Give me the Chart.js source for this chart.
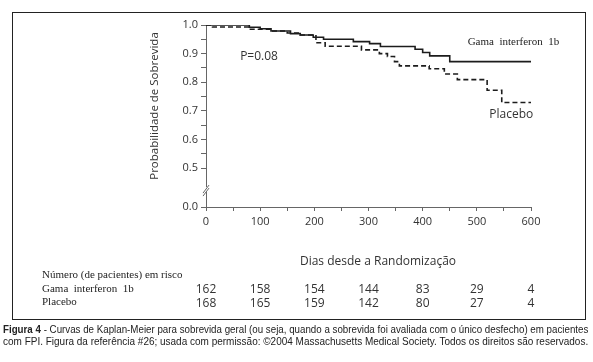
<!DOCTYPE html>
<html>
<head>
<meta charset="utf-8">
<script src="https://cdn.jsdelivr.net/npm/chart.js@4.4.0/dist/chart.umd.min.js"></script>
<style>
  html, body { margin: 0; padding: 0; background: #fff; }
  #wrap { position: relative; width: 593px; height: 362px; overflow: hidden; }
  #km { position: absolute; left: 0; top: 0; }
  .cap { position: absolute; left: 3px; display: inline-block; white-space: nowrap; font: 10px "Liberation Sans", sans-serif; color: #222; transform-origin: 0 0; }
</style>
</head>
<body>
<div id="wrap">
  <canvas id="km" width="593" height="362"></canvas>
  <div class="cap" id="cap1" style="top:324px"><b>Figura 4</b> - Curvas de Kaplan-Meier para sobrevida geral (ou seja, quando a sobrevida foi avaliada com o único desfecho) em pacientes</div>
  <div class="cap" id="cap2" style="top:336px">com FPI. Figura da referência #26; usada com permissão: ©2004 Massachusetts Medical Society. Todos os direitos são reservados.</div>
</div>
<script>
// survival curves (day of step, survival after step)
const gamaDays = [0, 80, 100, 120, 156, 174, 198, 217, 272, 302, 322, 386, 400, 413, 450, 600];
const gamaSurv = [1.0, 0.992, 0.987, 0.979, 0.970, 0.965, 0.957, 0.950, 0.942, 0.935, 0.925, 0.915, 0.904, 0.892, 0.872, 0.872];
const placeboDays = [0, 12, 82, 119, 150, 174, 203, 220, 287, 320, 335, 348, 357, 412, 440, 464, 519, 546, 600];
const placeboSurv = [1.0, 0.993, 0.985, 0.979, 0.972, 0.965, 0.938, 0.926, 0.913, 0.900, 0.890, 0.872, 0.857, 0.847, 0.829, 0.809, 0.772, 0.729, 0.729];

// numbers at risk
const riskDays = [0, 100, 200, 300, 400, 500, 600];
const riskGama = [162, 158, 154, 144, 83, 29, 4];
const riskPlacebo = [168, 165, 159, 142, 80, 27, 4];

// ticks
const xTickValues = [0, 50, 100, 150, 200, 250, 300, 350, 400, 450, 500, 550, 600];
const yTickValues = [0.5, 0.55, 0.6, 0.65, 0.7, 0.75, 0.8, 0.85, 0.9, 0.95, 1.0];
const yBreak = 0.364; // where "0.0" sits, below the axis break

const ink = "#222";
const axisGrey = "#666";

function toPoints(days, surv) {
  return days.map((d, i) => ({ x: d, y: surv[i] }));
}

const extras = {
  id: "extras",
  beforeDraw(chart) {
    const ctx = chart.ctx;
    ctx.save();
    ctx.strokeStyle = ink;
    ctx.lineWidth = 1;
    ctx.strokeRect(12.5, 12.5, 573, 307);
    ctx.restore();
  },
  afterDraw(chart) {
    const ctx = chart.ctx;
    const xs = chart.scales.x;
    const ys = chart.scales.y;
    ctx.save();

    // axis break on y
    const bx = xs.left;
    const by = ys.getPixelForValue(0.5) + 22;
    ctx.fillStyle = "#fff";
    ctx.fillRect(bx - 2, by - 3, 4, 5);
    ctx.strokeStyle = axisGrey;
    ctx.lineWidth = 1;
    ctx.beginPath();
    ctx.moveTo(bx - 3, by + 3); ctx.lineTo(bx + 3, by - 5);
    ctx.moveTo(bx - 3, by + 6); ctx.lineTo(bx + 3, by - 2);
    ctx.stroke();

    // axis titles
    ctx.fillStyle = "#333";
    ctx.font = '12px "Open Sans", sans-serif';
    ctx.textAlign = "center";
    ctx.textBaseline = "middle";
    ctx.fillText("Dias desde a Randomização", 378, 262);
    ctx.save();
    ctx.translate(155, 106);
    ctx.rotate(-Math.PI / 2);
    ctx.font = '11.5px "Open Sans", sans-serif';
    ctx.fillText("Probabilidade de Sobrevida", 0, 0);
    ctx.restore();

    // annotations
    ctx.textAlign = "left";
    ctx.font = '12px "Open Sans", sans-serif';
    ctx.fillText("P=0.08", xs.getPixelForValue(63), ys.getPixelForValue(0.888));
    ctx.fillText("Placebo", xs.getPixelForValue(523), ys.getPixelForValue(0.688));
    ctx.fillStyle = ink;
    ctx.font = '11px "Liberation Serif", serif';
    ctx.fillText("Gama  interferon  1b", xs.getPixelForValue(483), ys.getPixelForValue(0.94));

    // numbers at risk table
    ctx.fillText("Número (de pacientes) em risco", 42, 275);
    ctx.fillText("Gama  interferon  1b", 42, 289);
    ctx.fillText("Placebo", 42, 302);
    ctx.fillStyle = "#333";
    ctx.textAlign = "center";
    ctx.font = '12px "Open Sans", sans-serif';
    riskDays.forEach((d, i) => {
      const px = xs.getPixelForValue(d);
      ctx.fillText(String(riskGama[i]), px, 290);
      ctx.fillText(String(riskPlacebo[i]), px, 304);
    });
    ctx.restore();
  }
};

new Chart(document.getElementById("km"), {
  type: "line",
  data: {
    datasets: [
      {
        label: "Gama interferon 1b",
        data: toPoints(gamaDays, gamaSurv),
        borderColor: "#1c1c1c",
        borderWidth: 1.6,
        stepped: true,
        pointRadius: 0,
        fill: false
      },
      {
        label: "Placebo",
        data: toPoints(placeboDays, placeboSurv),
        borderColor: "#1c1c1c",
        borderWidth: 1.6,
        borderDash: [5, 3],
        stepped: true,
        pointRadius: 0,
        fill: false
      }
    ]
  },
  options: {
    responsive: false,
    animation: false,
    devicePixelRatio: 1,
    layout: { padding: { top: 25, right: 62, left: 0, bottom: 0 } },
    plugins: { legend: { display: false }, tooltip: { enabled: false } },
    scales: {
      x: {
        type: "linear",
        min: 0,
        max: 600,
        afterFit: (s) => { s.height = 155; },
        afterBuildTicks: (s) => { s.ticks = xTickValues.map((v) => ({ value: v })); },
        ticks: {
          autoSkip: false,
          maxRotation: 0,
          padding: 4,
          color: "#333",
          font: { family: "Open Sans", size: 11 },
          callback: (v) => (v % 100 === 0 ? String(v) : "")
        },
        grid: { drawOnChartArea: false, tickLength: 4, color: axisGrey },
        border: { color: axisGrey, width: 1 }
      },
      y: {
        type: "linear",
        min: yBreak,
        max: 1.0,
        afterFit: (s) => { s.width = 206; },
        afterBuildTicks: (s) => {
          s.ticks = [yBreak].concat(yTickValues).map((v) => ({ value: v }));
        },
        ticks: {
          autoSkip: false,
          padding: 3,
          color: "#333",
          font: { family: "Open Sans", size: 11 },
          callback: (v) => {
            if (Math.abs(v - yBreak) < 1e-6) return "0.0";
            return Math.abs(v * 10 - Math.round(v * 10)) < 1e-6 ? v.toFixed(1) : "";
          }
        },
        grid: { drawOnChartArea: false, tickLength: 5, color: axisGrey },
        border: { color: axisGrey, width: 1 }
      }
    }
  },
  plugins: [extras]
});

// squeeze the caption lines to the printed width
["cap1", "cap2"].forEach((id) => {
  const el = document.getElementById(id);
  el.style.transform = "scaleX(" + (585 / el.offsetWidth) + ")";
});
</script>
</body>
</html>
